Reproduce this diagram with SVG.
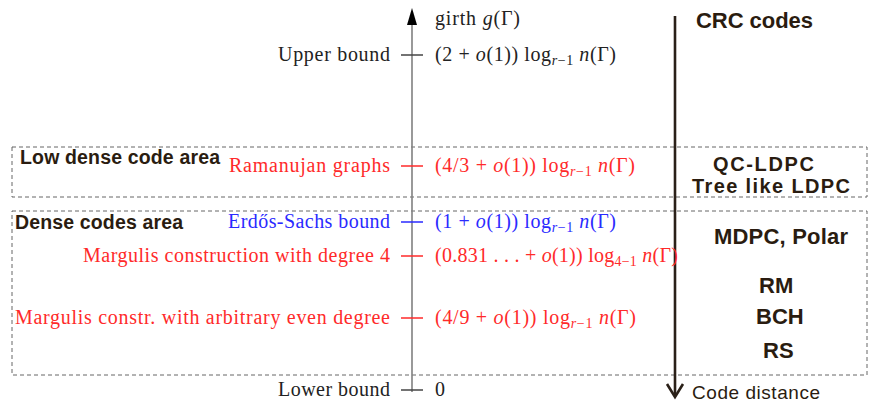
<svg xmlns="http://www.w3.org/2000/svg" width="869" height="405" viewBox="0 0 869 405">
<style>
.s{font-family:"Liberation Serif","Times New Roman",serif;font-size:20px;fill:#222}
.r{fill:#ff2a2a}
.b{fill:#2a2aff}
.i{font-style:italic}
.sub{font-size:14px}
.h{font-family:"Liberation Sans",Arial,sans-serif;font-weight:bold;fill:#2a1c10}
.box{fill:none;stroke:#666;stroke-width:1;stroke-dasharray:4 3}
.ax{stroke:#808080;stroke-width:1.6;fill:none}
.tk{stroke-width:1.5;fill:none}
</style>
<rect width="869" height="405" fill="#fff"/>
<g id="areas">
<rect id="low-dense-box" class="box" x="12" y="147" width="855" height="50"/>
<rect id="dense-box" class="box" x="12" y="211" width="855" height="164"/>
</g>
<g id="connectors">
<line class="ax" x1="412" y1="392" x2="412" y2="20"/>
<polygon points="412,8 407,25 417,25" fill="#000"/>
<line class="tk" stroke="#444" x1="401" y1="55" x2="423" y2="55"/>
<line class="tk" stroke="#ff2a2a" x1="401" y1="166" x2="423" y2="166"/>
<line class="tk" stroke="#2a2aff" x1="401" y1="222" x2="423" y2="222"/>
<line class="tk" stroke="#ff2a2a" x1="401" y1="256" x2="423" y2="256"/>
<line class="tk" stroke="#ff2a2a" x1="401" y1="318" x2="423" y2="318"/>
<line class="tk" stroke="#444" x1="401" y1="390" x2="423" y2="390"/>
<line x1="675" y1="16" x2="675" y2="395" stroke="#2a2018" stroke-width="2.6"/>
<path d="M667,384 L675,397 L683,384" fill="none" stroke="#2a2018" stroke-width="2.6"/>
</g>
<g id="axis-title"><text class="s" x="435" y="25" textLength="85">girth <tspan class="i">g</tspan>(Γ)</text></g>
<g id="upper-bound">
<text class="s" x="390" y="61" text-anchor="end" textLength="112">Upper bound</text>
<text class="s" x="435" y="61" textLength="181">(2 + <tspan class="i">o</tspan>(1)) log<tspan class="sub i" dy="4">r</tspan><tspan class="sub">−1</tspan><tspan dy="-4"> </tspan><tspan class="i">n</tspan>(Γ)</text>
</g>
<g id="ramanujan">
<text class="s r" x="390" y="172" text-anchor="end" textLength="161">Ramanujan graphs</text>
<text class="s r" x="435" y="172" textLength="200">(4/3 + <tspan class="i">o</tspan>(1)) log<tspan class="sub i" dy="4">r</tspan><tspan class="sub">−1</tspan><tspan dy="-4"> </tspan><tspan class="i">n</tspan>(Γ)</text>
</g>
<g id="erdos-sachs">
<text class="s b" x="390" y="228" text-anchor="end" textLength="162">Erdős-Sachs bound</text>
<text class="s b" x="435" y="228" textLength="181">(1 + <tspan class="i">o</tspan>(1)) log<tspan class="sub i" dy="4">r</tspan><tspan class="sub">−1</tspan><tspan dy="-4"> </tspan><tspan class="i">n</tspan>(Γ)</text>
</g>
<g id="margulis-4">
<text class="s r" x="390" y="262" text-anchor="end" textLength="307">Margulis construction with degree 4</text>
<text class="s r" x="435" y="262" textLength="243">(0.831 . . . + <tspan class="i">o</tspan>(1)) log<tspan class="sub" dy="4">4−1</tspan><tspan dy="-4"> </tspan><tspan class="i">n</tspan>(Γ)</text>
</g>
<g id="margulis-even">
<text class="s r" x="390" y="324" text-anchor="end" textLength="375">Margulis constr. with arbitrary even degree</text>
<text class="s r" x="435" y="324" textLength="201">(4/9 + <tspan class="i">o</tspan>(1)) log<tspan class="sub i" dy="4">r</tspan><tspan class="sub">−1</tspan><tspan dy="-4"> </tspan><tspan class="i">n</tspan>(Γ)</text>
</g>
<g id="lower-bound">
<text class="s" x="390" y="396" text-anchor="end" textLength="112">Lower bound</text>
<text class="s" x="435" y="396">0</text>
</g>
<g id="area-labels">
<text class="h" x="20" y="164" font-size="19.5" textLength="200">Low dense code area</text>
<text class="h" x="15" y="229" font-size="19.5" textLength="168">Dense codes area</text>
</g>
<g id="codes">
<text class="h" x="696" y="28" font-size="22" textLength="117">CRC codes</text>
<text class="h" x="713" y="171" font-size="20" textLength="101">QC-LDPC</text>
<text class="h" x="692" y="193" font-size="20" textLength="158">Tree like LDPC</text>
<text class="h" x="714" y="244" font-size="22" textLength="134">MDPC, Polar</text>
<text class="h" x="759" y="293" font-size="22">RM</text>
<text class="h" x="756" y="324" font-size="22">BCH</text>
<text class="h" x="763" y="358" font-size="22">RS</text>
</g>
<g id="code-distance"><text x="692" y="399" font-family="Liberation Sans, Arial, sans-serif" font-size="19" fill="#2a1c10" textLength="128">Code distance</text></g>
</svg>
